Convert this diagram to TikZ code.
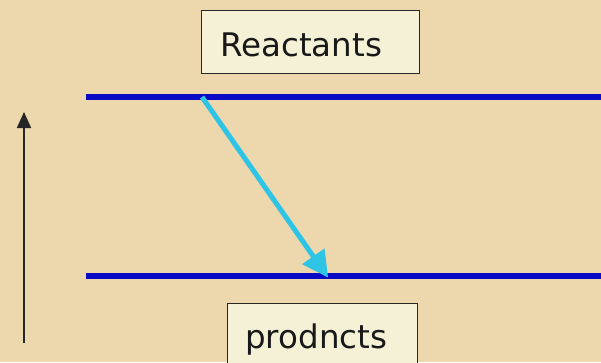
\documentclass[tikz,border=0pt]{standalone}
\usepackage{fontspec}
\setmainfont{DejaVu Sans}
\usetikzlibrary{arrows.meta}
\definecolor{parch}{HTML}{EDD8AE}
\definecolor{boxfill}{HTML}{F4F1D6}
\definecolor{levelblue}{HTML}{0A0AC4}
\definecolor{arrowcyan}{HTML}{2EC4E6}
\tikzset{
  label box/.style={draw=black!85, line width=1pt, fill=boxfill, inner sep=0pt, anchor=north west},
  label text/.style={font=\fontsize{32.5}{32.5}\selectfont, text=black!90, anchor=base west, inner sep=0pt},
  level/.style={draw=levelblue, line width=6pt},
  transition/.style={draw=arrowcyan, line width=5pt,
    -{Triangle[length=26pt, width=26pt]}, shorten >=-2pt},
  energy axis/.style={draw=black!85, line width=2pt, -{Triangle[length=16pt, width=14pt]}}
}
\begin{document}
\begin{tikzpicture}[x=1pt, y=-1pt]
  \fill[parch] (0,0) rectangle (601,362);
  \useasboundingbox (0,0) rectangle (601,362);

  % energy levels
  \coordinate (r0) at (86,97);
  \coordinate (r1) at (601,97);
  \coordinate (p0) at (86,276);
  \coordinate (p1) at (601,276);
  \draw[level] (r0) -- (r1);
  \draw[level] (p0) -- (p1);

  % labels
  \node[label box, minimum width=218pt, minimum height=63pt] (react) at (201,10) {};
  \node[label text] (reacttext) at (220,56) {Reactants};
  \node[label box, minimum width=190pt, minimum height=70pt] (prod) at (227,303) {};
  \node[label text] (prodtext) at (245,348) {prodncts};

  % reaction arrow
  \coordinate (ts) at (202,97);
  \coordinate (te) at (327,276);
  \draw[transition] (ts) -- (te);

  % energy axis
  \coordinate (a0) at (24,343);
  \coordinate (a1) at (24,112);
  \draw[energy axis] (a0) -- (a1);
\end{tikzpicture}
\end{document}
